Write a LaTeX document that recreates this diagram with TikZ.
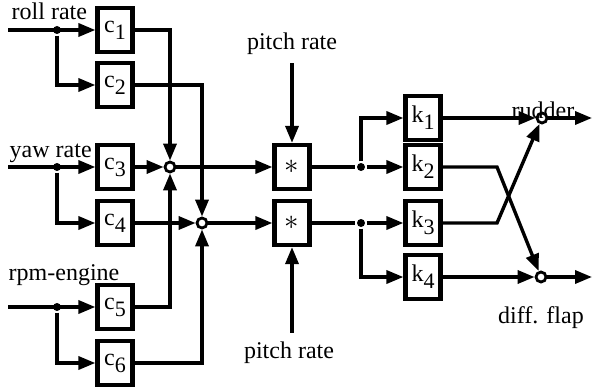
\documentclass[tikz,border=0pt]{standalone}
\usepackage{fontspec}
\setmainfont{Liberation Serif}
\usetikzlibrary{arrows.meta}
\newcommand{\blklab}[2]{#1\raisebox{-3.5pt}{\fontsize{11}{12}\selectfont #2}}
\begin{document}
\begin{tikzpicture}[x=0.5pt,y=-0.5pt,line width=1.7pt,line join=miter,
    >={Triangle[length=8.5pt,width=6.5pt]},
    font=\fontsize{12}{14}\selectfont,
    blk/.style={draw,line width=2.1pt,minimum width=17.5pt,minimum height=22pt,inner sep=0pt,fill=white},
    sumnode/.style={circle,draw,line width=1.4pt,fill=white,minimum size=5pt,inner sep=0pt},
    jdot/.style={circle,fill,inner sep=0pt,minimum size=4pt},
    lbl/.style={inner sep=0pt}]
  \useasboundingbox (0,0) rectangle (592,390);
  % input gains
  \node[blk] (c1) at (115,30) {\blklab{c}{1}};
  \node[blk] (c2) at (115,85) {\blklab{c}{2}};
  \node[blk] (c3) at (115,167) {\blklab{c}{3}};
  \node[blk] (c4) at (115,223) {\blklab{c}{4}};
  \node[blk] (c5) at (115,307) {\blklab{c}{5}};
  \node[blk] (c6) at (115,363) {\blklab{c}{6}};
  \node[lbl,anchor=base west] (lroll) at (10,20) {roll rate};
  \node[lbl,anchor=base west] (lyaw) at (8,157) {yaw rate};
  \node[lbl,anchor=base west] (lrpm) at (7,280) {rpm-engine};
  \coordinate (in1) at (8,30);
  \coordinate (in2) at (8,167);
  \coordinate (in3) at (8,307);
  \node[jdot] (j1) at (57,30) {};
  \node[jdot] (j2) at (57,167) {};
  \node[jdot] (j3) at (57,307) {};
  \draw[->] (in1) -- (c1);
  \draw[->] (j1) |- (c2);
  \draw[->] (in2) -- (c3);
  \draw[->] (j2) |- (c4);
  \draw[->] (in3) -- (c5);
  \draw[->] (j3) |- (c6);
  % summing points
  \node[sumnode] (s1) at (170,167) {};
  \node[sumnode] (s2) at (202,223) {};
  \draw[->] (c1) -| (s1);
  \draw[->] (c3) -- (s1);
  \draw[->] (c5) -| (s1);
  \draw[->] (c2) -| (s2);
  \draw[->] (c4) -- (s2);
  \draw[->] (c6) -| (s2);
  % multiplication with pitch rate
  \node[blk] (m1) at (292,167) {\Large$\ast$};
  \node[blk] (m2) at (292,223) {\Large$\ast$};
  \node[anchor=base] (pt) at (292,50) {pitch rate};
  \node[anchor=base] (pb) at (289,358) {pitch rate};
  \draw[->] (s1) -- (m1);
  \draw[->] (s2) -- (m2);
  \draw[->] (pt) -- (m1);
  \draw[->] (pb.north -| m2) -- (m2);
  % output gains
  \node[blk] (k1) at (423,118) {\blklab{k}{1}};
  \node[blk] (k2) at (423,167) {\blklab{k}{2}};
  \node[blk] (k3) at (423,223) {\blklab{k}{3}};
  \node[blk] (k4) at (423,277) {\blklab{k}{4}};
  \node[jdot] (d1) at (361,167) {};
  \node[jdot] (d2) at (361,223) {};
  \draw (m1) -- (d1);
  \draw (m2) -- (d2);
  \draw[->] (d1) -- (k2);
  \draw[->] (d1) |- (k1);
  \draw[->] (d2) -- (k3);
  \draw[->] (d2) |- (k4);
  % rudder and diff. flap
  \node[sumnode] (r) at (542,118) {};
  \node[sumnode] (f) at (541,277) {};
  \node[lbl,anchor=base] (lrud) at (543,118) {rudder};
  \node[lbl,anchor=base] (lflap) at (541,323) {diff. flap};
  \coordinate (b2) at (497,167);
  \coordinate (b3) at (497,223);
  \coordinate (ro) at (592,118);
  \coordinate (fo) at (592,277);
  \draw[->] (k1) -- (r);
  \draw[->] (k4) -- (f);
  \draw[->] (k2) -- (b2) -- (f);
  \draw[->] (k3) -- (b3) -- (r);
  \draw[->] (r) -- (ro);
  \draw[->] (f) -- (fo);
\end{tikzpicture}
\end{document}
